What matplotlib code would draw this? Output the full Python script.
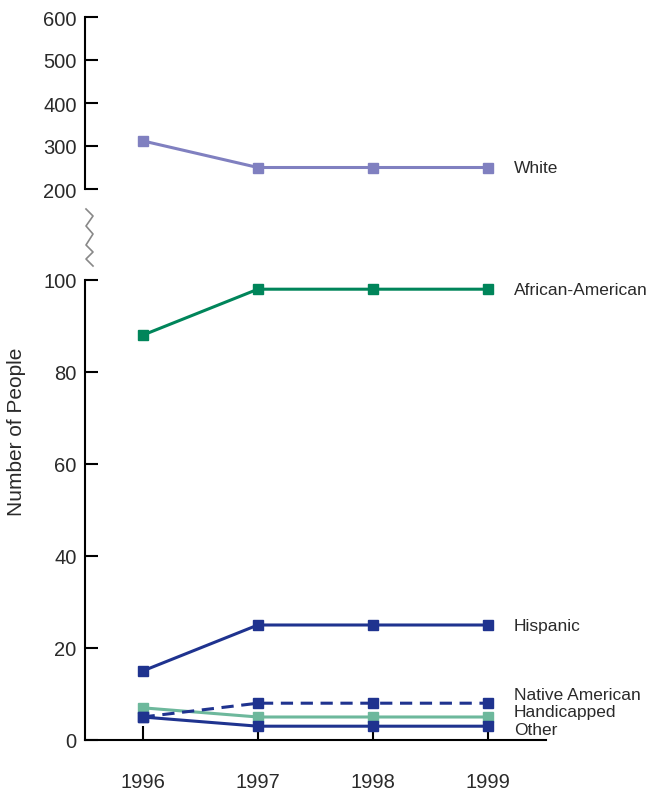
import matplotlib.pyplot as plt
from matplotlib.lines import Line2D

plt.rcParams['font.family'] = ['Liberation Sans', 'DejaVu Sans']

years = [1996, 1997, 1998, 1999]
white = [312, 250, 250, 250]
african_american = [88, 98, 98, 98]
hispanic = [15, 25, 25, 25]
native_american = [5, 8, 8, 8]
handicapped = [7, 5, 5, 5]
other = [5, 3, 3, 3]

top_ticks = [200, 300, 400, 500, 600]
bottom_ticks = [0, 20, 40, 60, 80, 100]

c_white = '#8080c0'
c_afam = '#00855a'
c_hisp = '#1f338f'
c_hand = '#6db89c'
txt = '#2a2a2a'

W, H = 651, 804
fig = plt.figure(figsize=(W / 100, H / 100), dpi=100)

def rect(l, t, r, b):
    return [l / W, 1 - b / H, (r - l) / W, (b - t) / H]

ax_top = fig.add_axes(rect(85, 18, 546, 190))
ax_bot = fig.add_axes(rect(85, 281, 546, 741))

lw = 2.2
ms = 7.5
ax_top.plot(years, white, color=c_white, lw=lw, marker='s', ms=ms, clip_on=False)

ax_bot.plot(years, handicapped, color=c_hand, lw=lw, marker='s', ms=ms, clip_on=False)
ax_bot.plot(years, other, color=c_hisp, lw=lw, marker='s', ms=ms, clip_on=False)
ax_bot.plot(years, native_american, color=c_hisp, lw=lw, ls=(0, (4, 2.5)), marker='s', ms=ms, clip_on=False)
ax_bot.plot(years, hispanic, color=c_hisp, lw=lw, marker='s', ms=ms, clip_on=False)
ax_bot.plot(years, african_american, color=c_afam, lw=lw, marker='s', ms=ms, clip_on=False)

for ax in (ax_top, ax_bot):
    ax.set_xlim(1995.5, 1999.5)
    for s in ('top', 'right'):
        ax.spines[s].set_visible(False)
    ax.spines['left'].set_linewidth(1.5)
    ax.spines['bottom'].set_linewidth(1.5)
    ax.tick_params(axis='y', direction='in', length=9, width=1.5, labelsize=14.5, labelcolor=txt, pad=6)

ax_top.set_ylim(200, 600)
ax_top.set_yticks(top_ticks)
ax_top.spines['bottom'].set_visible(False)
ax_top.set_xticks([])

ax_bot.set_ylim(0, 100)
ax_bot.set_yticks(bottom_ticks)
ax_bot.set_xticks(years)
ax_bot.tick_params(axis='x', direction='in', length=10, width=1.5, labelsize=14.5, labelcolor=txt, pad=23)

# series labels
fs = 12.5
ax_top.text(1999.22, white[-1], 'White', fontsize=fs, color=txt, va='center')
ax_bot.text(1999.22, african_american[-1], 'African-American', fontsize=fs, color=txt, va='center')
ax_bot.text(1999.22, hispanic[-1], 'Hispanic', fontsize=fs, color=txt, va='center')
ax_bot.text(1999.22, 9.9, 'Native American', fontsize=fs, color=txt, va='center', clip_on=False)
ax_bot.text(1999.22, 6.2, 'Handicapped', fontsize=fs, color=txt, va='center', clip_on=False)
ax_bot.text(1999.22, 2.3, 'Other', fontsize=fs, color=txt, va='center', clip_on=False)

# axis break zigzag
zx = [86, 93, 86, 93, 86, 93, 86, 93]
zy = [210, 217, 227, 235, 246, 253, 260, 267]
fig.add_artist(Line2D([x / W for x in zx], [1 - y / H for y in zy],
                      color='#888888', lw=1.2, transform=fig.transFigure))

fig.text(17 / W, 1 - 432 / H, 'Number of People', rotation=90, fontsize=15,
         color=txt, ha='center', va='center')

fig.savefig('out.png', dpi=100)
